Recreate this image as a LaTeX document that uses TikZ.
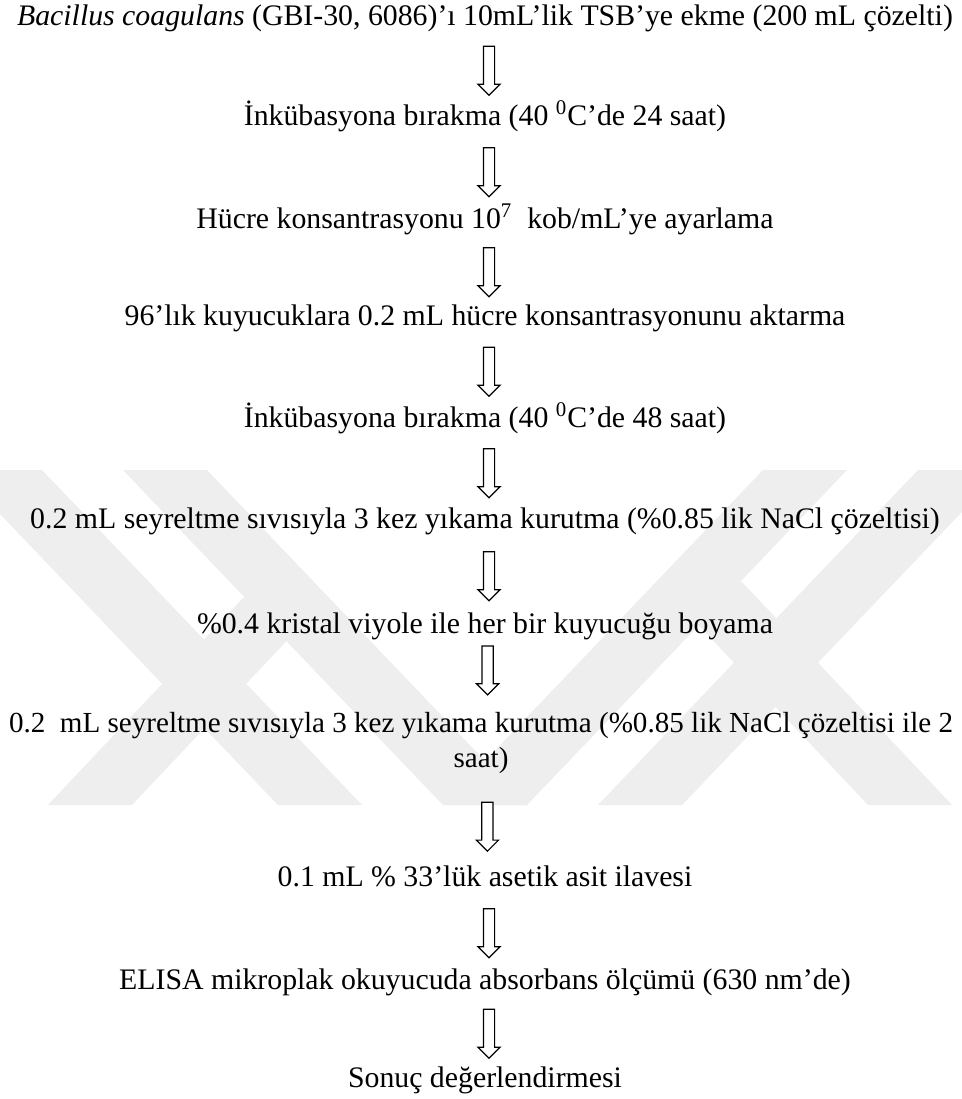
\documentclass[tikz,border=0pt]{standalone}
\usepackage{fontspec}
\setmainfont{Liberation Serif}
\usetikzlibrary{shapes.arrows}

\definecolor{wmgray}{RGB}{238,238,238}

\begin{document}
\begin{tikzpicture}[x=0.5pt,y=-0.5pt,
  every node/.style={font=\fontsize{14.9}{17.5}\selectfont},
  stepnode/.style={anchor=base,inner sep=0pt,text height=10.5pt,text depth=3.5pt},
  flowarrow/.style={draw,line width=0.6pt,fill=white,shape=single arrow,
    shape border rotate=270,minimum height=24.5pt,minimum width=0pt,
    single arrow head extend=2.75pt,single arrow head indent=0pt,inner sep=2.5pt,
    xshift=2pt}]
\useasboundingbox (0,0) rectangle (962,1099);
\fill[white] (0,0) rectangle (962,1099);

% watermark
\begin{scope}
\clip (0,470) rectangle (962,805);
\foreach \t/\b in {0/320, 165/485, 805/485, 960/640}
  \fill[wmgray] (\t-42,470) -- (\t+42,470) -- (\b+42,805) -- (\b-42,805) -- cycle;
\fill[wmgray] (243,598) -- (327,598) -- (132,805) -- (48,805) -- cycle;
\fill[wmgray] (658,582) -- (742,582) -- (952,805) -- (868,805) -- cycle;
\end{scope}

% steps
\node[stepnode] (s1) at (485,25) {\textit{Bacillus coagulans} (GBI-30, 6086)’ı 10mL’lik TSB’ye ekme (200 mL çözelti)};
\node[stepnode] (s2) at (485,125) {İnkübasyona bırakma (40 \textsuperscript{0}C’de 24 saat)};
\node[stepnode] (s3) at (485,228) {Hücre konsantrasyonu 10\textsuperscript{7}\ \ kob/mL’ye ayarlama};
\node[stepnode] (s4) at (485,325) {96’lık kuyucuklara 0.2 mL hücre konsantrasyonunu aktarma};
\node[stepnode] (s5) at (485,427) {İnkübasyona bırakma (40 \textsuperscript{0}C’de 48 saat)};
\node[stepnode] (s6) at (485,528) {0.2 mL seyreltme sıvısıyla 3 kez yıkama kurutma (\%0.85 lik NaCl çözeltisi)};
\node[stepnode] (s7) at (485,633) {\%0.4 kristal viyole ile her bir kuyucuğu boyama};
\node[anchor=north,inner sep=0pt,align=center,font=\fontsize{14.55}{17.5}\selectfont] (s8) at (481,712)
  {0.2\ \ mL seyreltme sıvısıyla 3 kez yıkama kurutma (\%0.85 lik NaCl çözeltisi ile 2\\ saat)};
\node[stepnode] (s9) at (485,886) {0.1 mL \% 33’lük asetik asit ilavesi};
\node[stepnode] (s10) at (485,989) {ELISA mikroplak okuyucuda absorbans ölçümü (630 nm’de)};
\node[stepnode] (s11) at (485,1087) {Sonuç değerlendirmesi};

% arrows
\path (s1) -- (s2) node[midway,flowarrow] (a1) {};
\path (s2) -- (s3) node[midway,flowarrow] (a2) {};
\path (s3) -- (s4) node[midway,flowarrow] (a3) {};
\path (s4) -- (s5) node[midway,flowarrow] (a4) {};
\path (s5) -- (s6) node[midway,flowarrow] (a5) {};
\path (s6) -- (s7) node[midway,flowarrow] (a6) {};
\path (s7) -- (s8) node[pos=0.38,flowarrow] (a7) {};
\path (s8) -- (s9) node[pos=0.55,flowarrow] (a8) {};
\path (s9) -- (s10) node[midway,flowarrow] (a9) {};
\path (s10) -- (s11) node[midway,flowarrow] (a10) {};
\end{tikzpicture}
\end{document}
